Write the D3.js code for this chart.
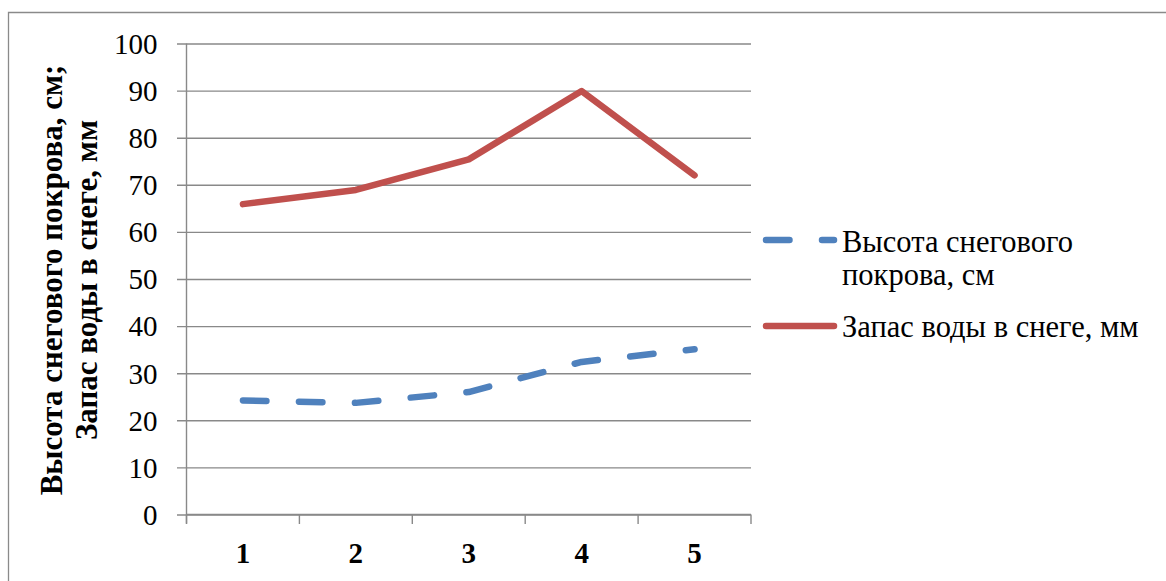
<!DOCTYPE html>
<html>
<head>
<meta charset="utf-8">
<script src="https://cdn.jsdelivr.net/npm/d3@7"></script>
<style>
  html, body { margin: 0; padding: 0; background: #fff; }
  svg { display: block; }
  svg text, svg tspan { font-family: 'Liberation Serif', Tinos, 'DejaVu Serif', serif !important; fill: #000; }
</style>
</head>
<body>
<svg id="chart" width="1166" height="581"></svg>
<script>
// Snow survey points 1–5
const categories = ["1", "2", "3", "4", "5"];
const snowDepth = [24.2, 23.7, 26.0, 32.4, 35.1];      // Высота снегового покрова, см
const waterStore = [65.9, 68.9, 75.4, 89.9, 72.0];     // Запас воды в снеге, мм
const yTicks = [0, 10, 20, 30, 40, 50, 60, 70, 80, 90, 100];
const seriesNames = ["Высота снегового покрова, см", "Запас воды в снеге, мм"];
const legendLines = [["Высота снегового", "покрова, см"], ["Запас воды в снеге, мм"]];
const yTitleLines = ["Высота снегового покрова, см;", "Запас воды в снеге, мм"];

const FONT = "'Liberation Serif', Tinos, 'DejaVu Serif', serif";
const svg = d3.select("#chart").style("font-family", FONT);
const plot = { left: 186.5, right: 751, top: 43.5, bottom: 514.5 };
const gridColor = "#898989";

// outer chart frame
svg.append("path")
  .attr("d", "M8.5,581 V12.5 H1166")
  .attr("fill", "none")
  .attr("stroke", "#8a8a8a")
  .attr("stroke-width", 1.3);

const x = d3.scaleBand().domain(categories).range([plot.left, plot.right]).padding(0);
const y = d3.scaleLinear().domain([0, 100]).range([plot.bottom, plot.top]);

// horizontal gridlines with short tick stubs on the left
const yAxis = d3.axisLeft(y).tickValues(yTicks)
  .tickSize(-(plot.right - plot.left)).tickPadding(20).tickSizeOuter(0);
const gy = svg.append("g").attr("transform", `translate(${plot.left},0)`).call(yAxis)
  .attr("font-family", null).attr("font-size", null);
gy.select(".domain").remove();
gy.selectAll(".tick line")
  .attr("x1", -9.5)
  .attr("stroke", gridColor).attr("stroke-width", 1.4);
gy.selectAll(".tick text")
  .style("font-family", FONT).style("font-size", "29px").attr("fill", "#000")
  .attr("x", -29).attr("dy", "0.34em");

// vertical axis line
svg.append("line")
  .attr("x1", plot.left).attr("x2", plot.left)
  .attr("y1", plot.top).attr("y2", plot.bottom + 9)
  .attr("stroke", gridColor).attr("stroke-width", 1.4);

// category axis: ticks at band boundaries, labels at band centres
const gx = svg.append("g").attr("transform", `translate(0,${plot.bottom})`);
gx.append("line").attr("x1", plot.left).attr("x2", plot.right)
  .attr("stroke", gridColor).attr("stroke-width", 1.4);
const bounds = categories.map(c => x(c)).concat([x(categories[categories.length - 1]) + x.bandwidth()]);
gx.selectAll("line.tk").data(bounds).join("line").attr("class", "tk")
  .attr("x1", d => d).attr("x2", d => d).attr("y1", 0).attr("y2", 9.5)
  .attr("stroke", gridColor).attr("stroke-width", 1.4);
gx.selectAll("text").data(categories).join("text")
  .attr("x", d => x(d) + x.bandwidth() / 2)
  .attr("y", 48)
  .attr("text-anchor", "middle")
  .style("font-family", FONT).style("font-size", "29px").style("font-weight", "bold")
  .text(d => d);

// y-axis title, two rotated lines
const yTitle = svg.append("text")
  .attr("transform", "translate(62,280) rotate(-90)")
  .attr("text-anchor", "middle")
  .style("font-family", FONT).style("font-size", "31px").style("font-weight", "bold");
yTitle.selectAll("tspan").data(yTitleLines).join("tspan")
  .attr("x", 0).attr("dy", (d, i) => i === 0 ? 0 : 35)
  .text(d => d);

// series lines
const cx = d => x(d) + x.bandwidth() / 2;
const line = d3.line().x((d, i) => cx(categories[i])).y(d => y(d));

svg.append("path").datum(snowDepth)
  .attr("d", line)
  .attr("fill", "none")
  .attr("stroke", "#4F81BD").attr("stroke-width", 6.5)
  .attr("stroke-linecap", "round").attr("stroke-linejoin", "round")
  .attr("stroke-dasharray", "23.5,32.5");

svg.append("path").datum(waterStore)
  .attr("d", line)
  .attr("fill", "none")
  .attr("stroke", "#C0504D").attr("stroke-width", 6.5)
  .attr("stroke-linecap", "round").attr("stroke-linejoin", "round");

// legend
const legend = svg.append("g");
const legendItems = [
  { color: "#4F81BD", dash: "23.5,32.5", y: 240, lines: legendLines[0], textY: 252 },
  { color: "#C0504D", dash: null, y: 326, lines: legendLines[1], textY: 337 }
];
legendItems.forEach((it, i) => {
  legend.append("line")
    .attr("x1", 766).attr("x2", 834)
    .attr("y1", it.y).attr("y2", it.y)
    .attr("stroke", it.color).attr("stroke-width", 6.5)
    .attr("stroke-linecap", "round")
    .attr("stroke-dasharray", it.dash);
  const t = legend.append("text")
    .attr("x", 842).attr("y", it.textY)
    .style("font-family", FONT).style("font-size", "30.5px")
    .attr("aria-label", seriesNames[i]);
  t.selectAll("tspan").data(it.lines).join("tspan")
    .attr("x", 842).attr("dy", (d, j) => j === 0 ? 0 : 33)
    .text(d => d);
});
</script>
</body>
</html>
